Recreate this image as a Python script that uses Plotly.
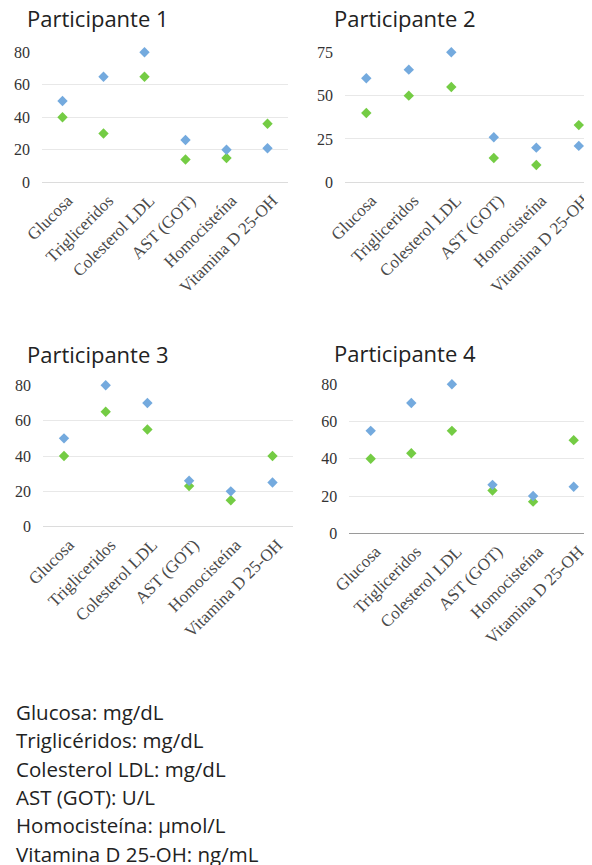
import plotly.graph_objects as go

# the page puts the figure 8px in from the top-left corner (default body margin)
OFF = 8
W, H = 592 - OFF, 865 - OFF

categories = ["Glucosa", "Trigliceridos", "Colesterol LDL", "AST (GOT)", "Homocisteína", "Vitamina D 25-OH"]

p1_blue = [50, 65, 80, 26, 20, 21]
p1_green = [40, 30, 65, 14, 15, 36]
p2_blue = [60, 65, 75, 26, 20, 21]
p2_green = [40, 50, 55, 14, 10, 33]
p3_blue = [50, 80, 70, 26, 20, 25]
p3_green = [40, 65, 55, 23, 15, 40]
p4_blue = [55, 70, 80, 26, 20, 25]
p4_green = [40, 43, 55, 23, 17, 50]

titles = ["Participante 1", "Participante 2", "Participante 3", "Participante 4"]
units = ["Glucosa: mg/dL", "Triglicéridos: mg/dL", "Colesterol LDL: mg/dL",
         "AST (GOT): U/L", "Homocisteína: µmol/L", "Vitamina D 25-OH: ng/mL"]

BLUE = "#74aade"
GREEN = "#74cc44"
GRID = "#e8e8e8"
SERIF = "Liberation Serif"
SANS = "Open Sans"


def fx(p):
    return min(max((p - OFF) / W, 0), 1)


def fy(p):
    return min(max(1 - (p - OFF) / H, 0), 1)


# panel geometry in page pixels: (x_left, x_right, first_cat_x, cat_step, y_top, y_zero, ymax, dtick, zerocolor)
panels = [
    (42, 288, 62.5, 41, 52.3, 182.3, 80, 20, "#dcdcdc"),
    (345, 592, 366.3, 42.5, 52.3, 182.3, 75, 25, "#dcdcdc"),
    (43, 293, 64.0, 41.7, 385.3, 526.7, 80, 20, "#dcdcdc"),
    (349.3, 592, 370.7, 40.6, 384.3, 533.3, 80, 20, "#9a9a9a"),
]
series = [(p1_blue, p1_green), (p2_blue, p2_green), (p3_blue, p3_green), (p4_blue, p4_green)]

fig = go.Figure()
layout = {}
for i, (xl, xr, c0, step, yt, y0, ymax, dt, zc) in enumerate(panels):
    n = "" if i == 0 else str(i + 1)
    blue, green = series[i]
    for vals, col in ((green, GREEN), (blue, BLUE)):
        fig.add_trace(go.Scatter(
            x=categories, y=vals, mode="markers",
            marker=dict(symbol="diamond", size=8, color=col, line=dict(width=0)),
            xaxis="x" + n, yaxis="y" + n, showlegend=False, cliponaxis=False,
        ))
    r0 = (xl - c0) / step
    r1 = (xr - c0) / step
    layout["xaxis" + n] = dict(
        domain=[fx(xl), fx(xr)], anchor="y" + n,
        type="category", range=[r0, r1], tickangle=-45,
        showgrid=False, zeroline=False, showline=False, ticks="",
        ticklabelstandoff=4, ticklabelshift=5,
        tickfont=dict(family=SERIF, size=17, color="#4a4a4a"),
        automargin=False, fixedrange=True,
    )
    layout["yaxis" + n] = dict(
        domain=[fy(y0), fy(yt)], anchor="x" + n,
        range=[0, ymax], dtick=dt, tick0=0,
        showgrid=True, gridcolor=GRID, gridwidth=1,
        zeroline=True, zerolinecolor=zc, zerolinewidth=1,
        showline=False, ticks="", ticklabelstandoff=11,
        tickfont=dict(family=SERIF, size=16, color="#333333"),
        automargin=False, fixedrange=True,
    )

annotations = []
title_pos = [(25, 18), (332, 18), (25, 354), (332, 353)]
for t, (tx, ty) in zip(titles, title_pos):
    annotations.append(dict(
        text=t, x=fx(tx), y=fy(ty), xref="paper", yref="paper",
        xanchor="left", yanchor="middle", showarrow=False,
        font=dict(family=SANS, size=22, color="#222222"),
    ))

line_y = [712, 740.3, 768.6, 796.9, 825.2, 853.5]
for t, ly in zip(units, line_y):
    annotations.append(dict(
        text=t, x=fx(14), y=fy(ly), xref="paper", yref="paper",
        xanchor="left", yanchor="middle", showarrow=False,
        font=dict(family=SANS, size=20.5, color="#222222"),
    ))

fig.update_layout(
    template="none",
    width=W, height=H,
    margin=dict(l=0, r=0, t=0, b=0, pad=0, autoexpand=False),
    paper_bgcolor="white", plot_bgcolor="white",
    annotations=annotations,
    **layout,
)

fig.write_html("out.html")
